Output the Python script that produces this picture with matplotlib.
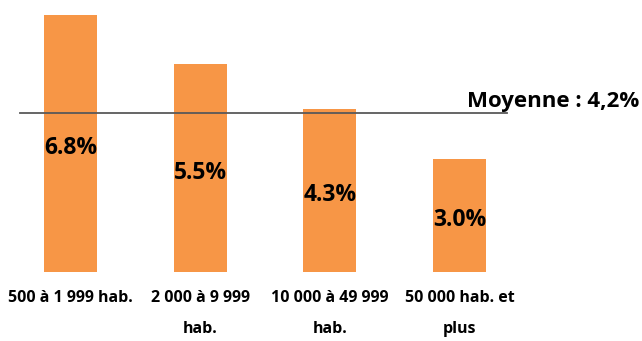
import matplotlib.pyplot as plt

plt.rcParams['font.family'] = ['Open Sans', 'DejaVu Sans']

categories = ['500 à 1 999 hab.', '2 000 à 9 999\nhab.', '10 000 à 49 999\nhab.', '50 000 hab. et\nplus']
values = [6.8, 5.5, 4.3, 3.0]
labels = ['6.8%', '5.5%', '4.3%', '3.0%']
moyenne = 4.2
moyenne_label = 'Moyenne : 4,2%'

orange = '#F79646'

fig = plt.figure(figsize=(6.42, 3.41), dpi=100)
ax = fig.add_axes([0, 69 / 341, 1, 272 / 341])

x = list(range(len(categories)))
ax.bar(x, values, width=0.41, color=orange)

for i, v in enumerate(values):
    ax.text(i, v / 2 - 0.12, labels[i], ha='center', va='center',
            fontsize=16.5, fontweight='bold', color='black')

# average line across the bars
ax.plot([-0.39, len(x) - 1 + 0.37], [moyenne, moyenne], color='#595959', lw=1.3)
ax.text(len(x) - 1 + 1.385, moyenne + 0.16, moyenne_label, ha='right', va='baseline',
        fontsize=16, fontweight='bold', color='black')

for i, c in enumerate(categories):
    ax.text(i, -0.48, c, ha='center', va='top', fontsize=11.5,
            fontweight='bold', linespacing=2.25)

ax.set_xlim(-70.5 / 129.67, (642 - 70.5) / 129.67)
ax.set_ylim(0, 272 / 37.8)
ax.axis('off')

fig.savefig('out.png', dpi=100)
